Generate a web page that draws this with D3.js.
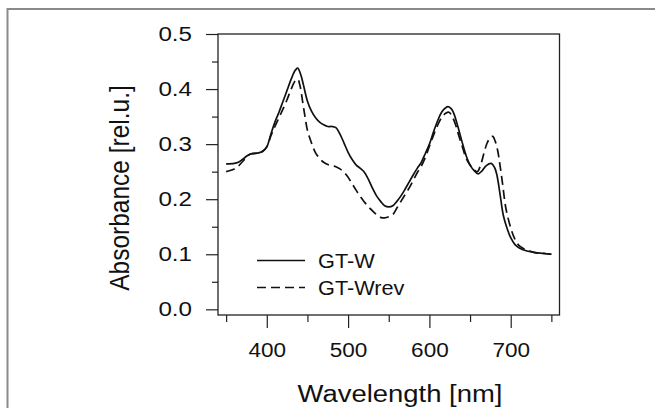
<!DOCTYPE html>
<html>
<head>
<meta charset="utf-8">
<script src="https://cdn.jsdelivr.net/npm/d3@7"></script>
<style>
  body { margin: 0; background: #fff; }
  text { font-family: "Liberation Sans", Arial, sans-serif; fill: #111; }
  .frame { fill: none; stroke: #8a8a8a; stroke-width: 2; }
  .box { fill: none; stroke: #222; stroke-width: 1.3; }
  .axis path { display: none; }
  .axis line { stroke: #222; stroke-width: 1.2; }
  .axis text { font-size: 20.5px; }
  .spec { fill: none; stroke: #111; stroke-width: 1.7; }
  .dashed { stroke-dasharray: 9, 5; }
</style>
</head>
<body>
<script>
// wavelength (nm) / absorbance for the two samples
const wlW = [350, 360, 365, 370, 375, 380, 390, 395, 400, 405, 410, 415, 420, 425, 430, 435, 438, 442, 445, 450,
    455, 460, 465, 470, 475, 480, 485, 490, 495, 500, 505, 510, 515, 520, 525, 530, 535, 540, 545, 550,
    555, 560, 565, 570, 575, 580, 585, 590, 595, 600, 605, 610, 615, 620, 623, 627, 630, 635, 640, 645,
    650, 655, 660, 665, 670, 676, 680, 683, 687, 691, 696, 700, 705, 710, 720, 730, 740, 750];
const absW = [0.264, 0.265, 0.267, 0.272, 0.278, 0.282, 0.284, 0.287, 0.295, 0.318, 0.340, 0.358, 0.378, 0.398, 0.418, 0.434, 0.438, 0.425, 0.408, 0.378,
    0.360, 0.348, 0.340, 0.335, 0.332, 0.332, 0.330, 0.318, 0.302, 0.285, 0.272, 0.262, 0.256, 0.249, 0.236, 0.220, 0.206, 0.196, 0.188, 0.186,
    0.188, 0.196, 0.206, 0.218, 0.231, 0.244, 0.256, 0.267, 0.283, 0.300, 0.322, 0.342, 0.358, 0.366, 0.368, 0.364, 0.356, 0.332, 0.305, 0.280,
    0.262, 0.252, 0.246, 0.252, 0.261, 0.265, 0.258, 0.244, 0.208, 0.170, 0.145, 0.130, 0.118, 0.112, 0.106, 0.103, 0.1015, 0.100];

const wlRev = [350, 355, 360, 365, 370, 375, 380, 390, 395, 400, 405, 410, 415, 420, 425, 430, 435, 438, 441, 444,
    447, 450, 455, 460, 465, 470, 475, 480, 485, 490, 495, 500, 505, 510, 515, 520, 525, 530, 535, 540,
    545, 550, 555, 560, 565, 570, 575, 580, 585, 590, 595, 600, 605, 610, 615, 620, 624, 628, 632, 636,
    640, 645, 650, 655, 659, 663, 667, 671, 675, 678, 681, 684, 687, 690, 694, 700, 705, 710, 715, 720,
    730, 740, 750];
const absRev = [0.250, 0.252, 0.255, 0.260, 0.268, 0.276, 0.282, 0.284, 0.287, 0.295, 0.315, 0.332, 0.348, 0.364, 0.381, 0.400, 0.415, 0.418, 0.405, 0.378,
    0.350, 0.325, 0.302, 0.284, 0.274, 0.267, 0.263, 0.261, 0.259, 0.255, 0.249, 0.240, 0.228, 0.216, 0.205, 0.195, 0.186, 0.179, 0.172, 0.167,
    0.166, 0.168, 0.172, 0.184, 0.196, 0.208, 0.220, 0.234, 0.248, 0.260, 0.276, 0.296, 0.316, 0.334, 0.348, 0.356, 0.358, 0.350, 0.336, 0.316,
    0.298, 0.275, 0.262, 0.253, 0.250, 0.262, 0.283, 0.302, 0.312, 0.314, 0.305, 0.288, 0.260, 0.228, 0.184, 0.148, 0.128, 0.116, 0.111, 0.108,
    0.103, 0.1015, 0.100];

const seriesNames = ["GT-W", "GT-Wrev"];
const xTicks = [400, 500, 600, 700];
const xMinor = [350, 450, 550, 650, 750];
const yTicks = [0.0, 0.1, 0.2, 0.3, 0.4, 0.5];
const yMinor = [0.05, 0.15, 0.25, 0.35, 0.45];

const W = 655, H = 408;
const box = { left: 218, right: 559.5, top: 34, bottom: 315 };
// the source figure is a bit wider than tall, so glyphs come out stretched
const stretch = 1.12;

const svg = d3.select("body").append("svg")
    .attr("width", W)
    .attr("height", H);

// outer panel frame (open to the right and bottom)
svg.append("rect")
    .attr("class", "frame")
    .attr("x", 7.5).attr("y", 9)
    .attr("width", 800).attr("height", 600);

const x = d3.scaleLinear().domain([340, 760]).range([box.left, box.right]);
const y = d3.scaleLinear().domain([-0.0103, 0.5]).range([box.bottom, box.top]);

svg.append("rect")
    .attr("class", "box")
    .attr("x", box.left).attr("y", box.top)
    .attr("width", box.right - box.left)
    .attr("height", box.bottom - box.top);

// widen a text element around its own anchor x
function widen(sel, s) {
    sel.each(function () {
        const t = d3.select(this);
        const ax = +t.attr("x") || 0;
        t.attr("x", 0).attr("transform", "translate(" + ax + ",0) scale(" + s + ",1)");
    });
}

// y axis
const gy = svg.append("g")
    .attr("class", "axis")
    .attr("transform", "translate(" + box.left + ",0)")
    .call(d3.axisLeft(y).tickValues(yTicks).tickSize(12).tickPadding(14)
        .tickFormat(d3.format(".1f")));
widen(gy.selectAll("text"), 1.18);
svg.append("g")
    .attr("class", "axis")
    .attr("transform", "translate(" + box.left + ",0)")
    .call(d3.axisLeft(y).tickValues(yMinor).tickSize(6).tickFormat(""));

// x axis
const gx = svg.append("g")
    .attr("class", "axis")
    .attr("transform", "translate(0," + box.bottom + ")")
    .call(d3.axisBottom(x).tickValues(xTicks).tickSize(13).tickPadding(14));
widen(gx.selectAll("text"), 1.1);
svg.append("g")
    .attr("class", "axis")
    .attr("transform", "translate(0," + box.bottom + ")")
    .call(d3.axisBottom(x).tickValues(xMinor).tickSize(7).tickFormat(""));

// axis titles
svg.append("text")
    .attr("transform", "translate(400,401.5) scale(" + stretch + ",1)")
    .attr("text-anchor", "middle")
    .style("font-size", "24.5px")
    .text("Wavelength [nm]");

svg.append("text")
    .attr("transform", "translate(129,188) scale(" + stretch + ",1) rotate(-90)")
    .attr("text-anchor", "middle")
    .style("font-size", "24.5px")
    .text("Absorbance [rel.u.]");

const line = d3.line()
    .curve(d3.curveCatmullRom)
    .x(d => x(d[0]))
    .y(d => y(d[1]));

svg.append("path")
    .datum(d3.zip(wlW, absW))
    .attr("class", "spec")
    .attr("d", line);

svg.append("path")
    .datum(d3.zip(wlRev, absRev))
    .attr("class", "spec dashed")
    .attr("d", line);

// legend
const legend = svg.append("g");
seriesNames.forEach((name, i) => {
    const ly = 260.5 + i * 27;
    legend.append("line")
        .attr("class", i ? "spec dashed" : "spec")
        .attr("x1", 257).attr("x2", 305)
        .attr("y1", ly).attr("y2", ly);
    legend.append("text")
        .attr("transform", "translate(318," + (ly + 7.5) + ") scale(1.06,1)")
        .style("font-size", "20.5px")
        .text(name);
});
</script>
</body>
</html>
